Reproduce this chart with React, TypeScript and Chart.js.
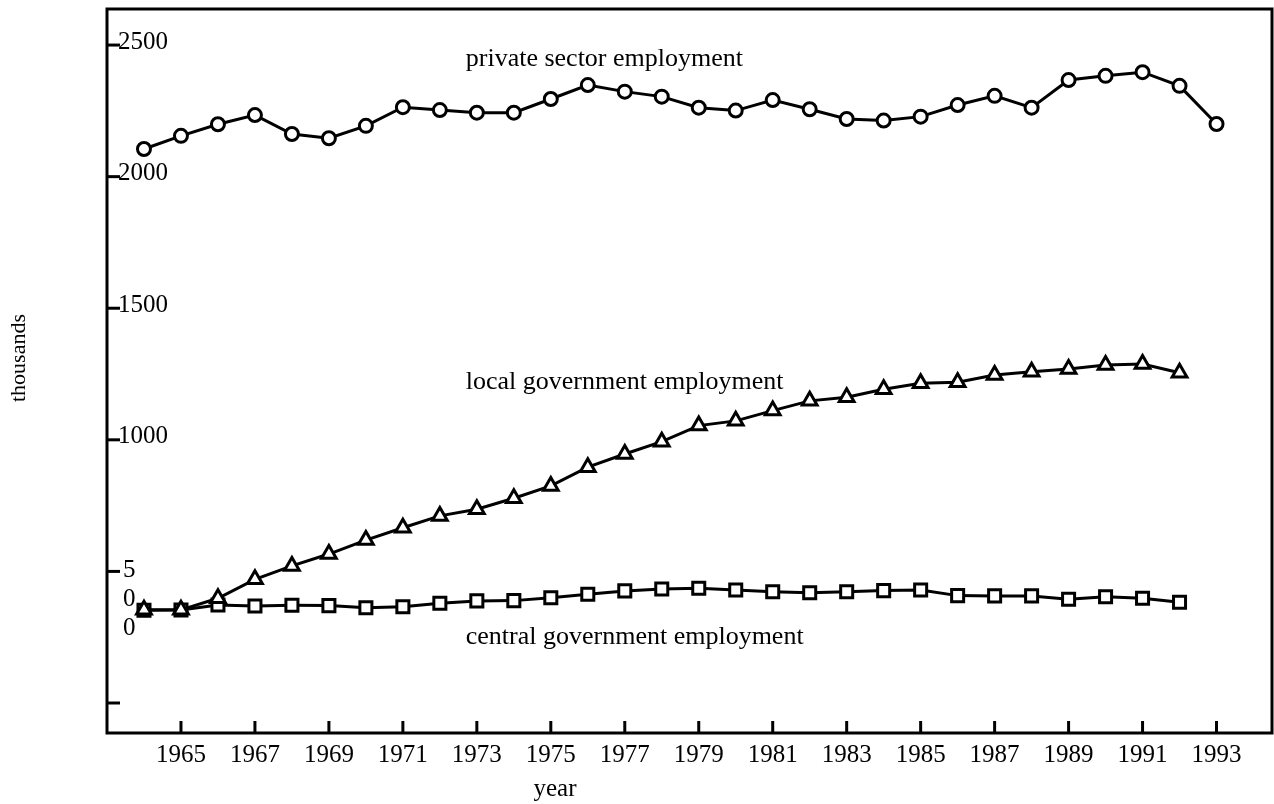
import React, { useEffect, useRef } from "react";
import { Chart, registerables } from "chart.js";

Chart.register(...registerables);

const years = [1964, 1965, 1966, 1967, 1968, 1969, 1970, 1971, 1972, 1973, 1974, 1975, 1976, 1977, 1978, 1979, 1980, 1981, 1982, 1983, 1984, 1985, 1986, 1987, 1988, 1989, 1990, 1991, 1992, 1993];

const privateSector = [2105, 2155, 2199, 2234, 2162, 2146, 2193, 2264, 2253, 2243, 2243, 2295, 2348, 2323, 2304, 2262, 2251, 2291, 2256, 2219, 2213, 2228, 2272, 2307, 2262, 2367, 2383, 2397, 2345, 2200];

const localGovernment = [354, 354, 398, 470, 521, 566, 619, 666, 711, 736, 778, 825, 896, 946, 993, 1054, 1072, 1111, 1148, 1162, 1192, 1215, 1219, 1246, 1259, 1269, 1284, 1288, 1255];

const centralGovernment = [352, 353, 372, 369, 371, 370, 362, 366, 379, 388, 389, 400, 413, 426, 433, 436, 429, 423, 419, 423, 427, 429, 408, 407, 407, 394, 404, 398, 383];

const xTickValues = [1965, 1967, 1969, 1971, 1973, 1975, 1977, 1979, 1981, 1983, 1985, 1987, 1989, 1991, 1993];
const xTickLabels = ["1965", "1967", "1969", "1971", "1973", "1975", "1977", "1979", "1981", "1983", "1985", "1987", "1989", "1991", "1993"];

const yTickValues = [0, 500, 1000, 1500, 2000, 2500];
const yTickLabels = [[], ["5", "0", "0"], ["1000"], ["1500"], ["2000"], ["2500"]];

const seriesLabels = ["private sector employment", "local government employment", "central government employment"];
const seriesLabelYear = [1972.7, 1972.7, 1972.7];
const seriesLabelValue = [2421, 1193, 224];

const xTitle = "year";
const yTitle = "thousands";

const SERIF = "'Liberation Serif', 'Times New Roman', serif";

const toPoints = (vals: number[]) => vals.map((v, i) => ({ x: years[i], y: v }));

const framePlugin = {
  id: "frameAndLabels",
  beforeDatasetsDraw(chart: any) {
    const { ctx, chartArea: a, scales } = chart;
    const xs = scales.x;
    const ys = scales.y;
    ctx.save();
    ctx.strokeStyle = "#000";
    ctx.fillStyle = "#000";
    ctx.lineWidth = 3;
    ctx.lineCap = "butt";
    ctx.strokeRect(a.left, a.top, a.right - a.left, a.bottom - a.top);

    // y ticks
    ctx.font = "25px " + SERIF;
    ctx.textAlign = "left";
    ctx.textBaseline = "middle";
    yTickValues.forEach((v, i) => {
      const y = ys.getPixelForValue(v);
      ctx.beginPath();
      ctx.moveTo(a.left, y);
      ctx.lineTo(a.left + 13, y);
      ctx.stroke();
      const lines = yTickLabels[i];
      lines.forEach((t: string, j: number) => {
        ctx.fillText(t, a.left + 11 + (lines.length > 1 ? 5 : 0), y - 3 + (lines.length > 1 ? 2 : 0) + j * 29);
      });
    });

    // x ticks
    ctx.textAlign = "center";
    ctx.textBaseline = "middle";
    xTickValues.forEach((v, i) => {
      const x = xs.getPixelForValue(v);
      ctx.beginPath();
      ctx.moveTo(x, a.bottom);
      ctx.lineTo(x, a.bottom - 12);
      ctx.stroke();
      ctx.fillText(xTickLabels[i], x, a.bottom + 22);
    });

    // axis titles
    ctx.font = "25px " + SERIF;
    ctx.fillText(xTitle, 555, 789);
    ctx.font = "22px " + SERIF;
    ctx.save();
    ctx.translate(19, 358);
    ctx.rotate(-Math.PI / 2);
    ctx.fillText(yTitle, 0, 0);
    ctx.restore();

    ctx.restore();
  },
  afterDatasetsDraw(chart: any) {
    const { ctx, scales } = chart;
    ctx.save();
    ctx.fillStyle = "#000";
    ctx.font = "26px " + SERIF;
    ctx.textAlign = "left";
    ctx.textBaseline = "alphabetic";
    seriesLabels.forEach((t, i) => {
      ctx.fillText(t, scales.x.getPixelForValue(seriesLabelYear[i]), scales.y.getPixelForValue(seriesLabelValue[i]));
    });
    ctx.restore();
  },
};

export default function App() {
  const ref = useRef<HTMLCanvasElement | null>(null);

  useEffect(() => {
    if (!ref.current) return;
    const common = {
      borderColor: "#000",
      backgroundColor: "#fff",
      pointBackgroundColor: "#fff",
      pointBorderColor: "#000",
      borderWidth: 3,
      pointBorderWidth: 3,
      tension: 0,
    };
    const chart = new Chart(ref.current, {
      type: "line",
      data: {
        datasets: [
          { ...common, label: seriesLabels[0], data: toPoints(privateSector), pointStyle: "circle", pointRadius: 6.5 },
          { ...common, label: seriesLabels[1], data: toPoints(localGovernment), pointStyle: "triangle", pointRadius: 8.5 },
          { ...common, label: seriesLabels[2], data: toPoints(centralGovernment), pointStyle: "rect", pointRadius: 8.5 },
        ],
      },
      options: {
        animation: false,
        responsive: false,
        layout: { autoPadding: false, padding: { left: 107, top: 9, right: 2, bottom: 71 } },
        plugins: { legend: { display: false }, tooltip: { enabled: false } },
        scales: {
          x: { type: "linear", min: 1963, max: 1994.5, display: false },
          y: { type: "linear", min: -114, max: 2637, display: false },
        },
      },
      plugins: [framePlugin],
    } as any);
    return () => chart.destroy();
  }, []);

  return (
    <div style={{ position: "absolute", left: 0, top: 0, width: 1274, height: 804, background: "#fff" }}>
      <canvas ref={ref} width={1274} height={804} style={{ display: "block" }} />
    </div>
  );
}
